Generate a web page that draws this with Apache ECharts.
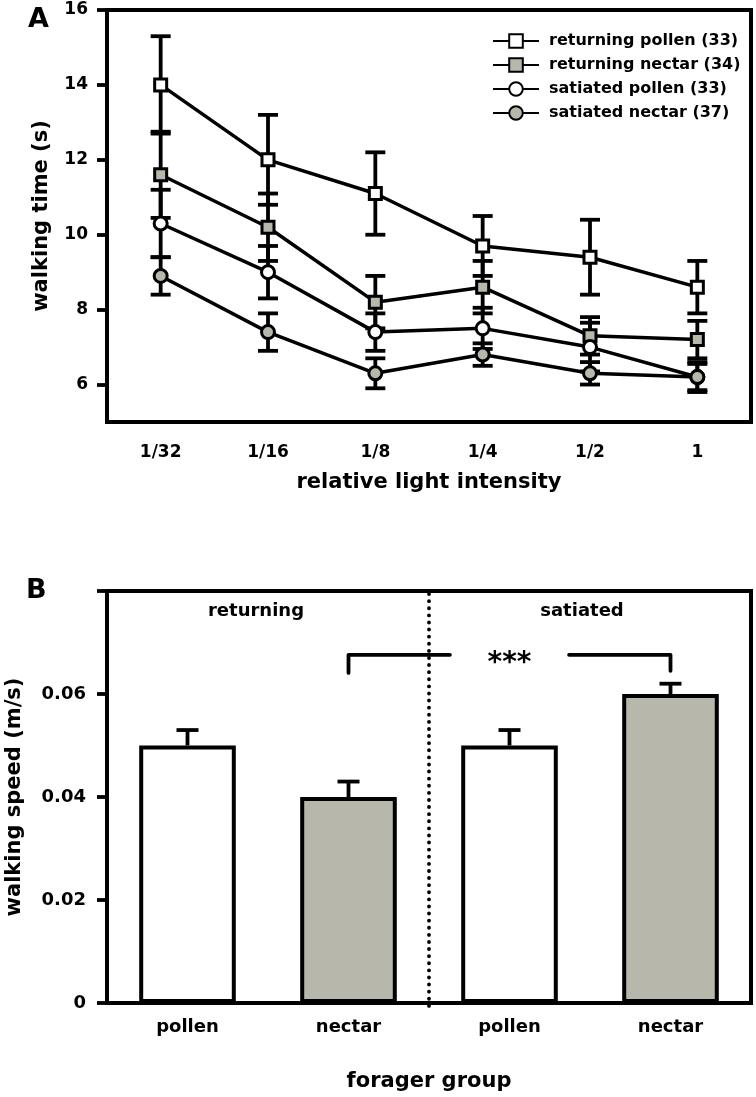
<!DOCTYPE html>
<html>
<head>
<meta charset="utf-8">
<script src="https://cdn.jsdelivr.net/npm/echarts@6/dist/echarts.min.js"></script>
<style>
  html, body { margin: 0; padding: 0; background: #fff; }
  #chart { width: 756px; height: 1097px; }
</style>
</head>
<body>
<div id="chart"></div>
<script>
// ---------- Panel A data ----------
const lightLabels = ['1/32', '1/16', '1/8', '1/4', '1/2', '1'];
const yTicksA = [6, 8, 10, 12, 14, 16];

const returningPollen    = [14.0, 12.0, 11.1, 9.7, 9.4, 8.6];
const returningPollenErr = [1.3, 1.2, 1.1, 0.8, 1.0, 0.7];
const returningNectar    = [11.6, 10.2, 8.2, 8.6, 7.3, 7.2];
const returningNectarErr = [1.15, 0.9, 0.7, 0.7, 0.5, 0.5];
const satiatedPollen     = [10.3, 9.0, 7.4, 7.5, 7.0, 6.2];
const satiatedPollenErr  = [0.9, 0.7, 0.5, 0.55, 0.65, 0.4];
const satiatedNectar     = [8.9, 7.4, 6.3, 6.8, 6.3, 6.2];
const satiatedNectarErr  = [0.5, 0.5, 0.4, 0.3, 0.3, 0.35];

const seriesNamesA = ['returning pollen (33)', 'returning nectar (34)', 'satiated pollen (33)', 'satiated nectar (37)'];

// ---------- Panel B data ----------
const barGroups = ['returning pollen', 'returning nectar', 'satiated pollen', 'satiated nectar'];
const barSpeed    = [0.050, 0.040, 0.050, 0.060];
const barSpeedErr = [0.003, 0.003, 0.003, 0.002];
const yTicksB = [0, 0.02, 0.04, 0.06, 0.08];
const sigPair = [1, 3];          // returning nectar vs satiated nectar
const sigLevel = 0.0676;
const sigLegEnds = [0.0641, 0.0645];
const sigLabel = '***';

// ---------- styles ----------
const FONT = "'DejaVu Sans', sans-serif";
const GREY = '#b7b7ab';
const BLACK = '#000';

function errorBars(means, errs, capHalf, upperOnly) {
  return means.map((m, i) => [i, m, errs[i], upperOnly ? 1 : 0, capHalf]);
}

function renderErr(params, api) {
  const x = api.value(0), m = api.value(1), e = api.value(2);
  const upperOnly = api.value(3) === 1;
  const w = api.value(4);
  const hi = api.coord([x, m + e]);
  const lo = api.coord([x, upperOnly ? m : m - e]);
  const st = { stroke: BLACK, lineWidth: 3.8 };
  const children = [
    { type: 'line', shape: { x1: hi[0], y1: hi[1], x2: lo[0], y2: lo[1] }, style: st },
    { type: 'line', shape: { x1: hi[0] - w, y1: hi[1], x2: hi[0] + w, y2: hi[1] }, style: st }
  ];
  if (!upperOnly) {
    children.push({ type: 'line', shape: { x1: lo[0] - w, y1: lo[1], x2: lo[0] + w, y2: lo[1] }, style: st });
  }
  return { type: 'group', children };
}

const lineDefs = [
  { name: seriesNamesA[0], data: returningPollen, err: returningPollenErr, symbol: 'rect', fill: '#fff' },
  { name: seriesNamesA[1], data: returningNectar, err: returningNectarErr, symbol: 'rect', fill: GREY },
  { name: seriesNamesA[2], data: satiatedPollen, err: satiatedPollenErr, symbol: 'circle', fill: '#fff' },
  { name: seriesNamesA[3], data: satiatedNectar, err: satiatedNectarErr, symbol: 'circle', fill: GREY }
];

const series = [];
lineDefs.forEach(d => {
  series.push({
    type: 'custom', xAxisIndex: 0, yAxisIndex: 0, z: 1, silent: true,
    renderItem: renderErr, data: errorBars(d.data, d.err, 10, false)
  });
});
lineDefs.forEach(d => {
  series.push({
    name: d.name, type: 'line', xAxisIndex: 0, yAxisIndex: 0, z: 3,
    data: d.data, symbol: d.symbol, symbolSize: d.symbol === 'rect' ? 12 : 13,
    showSymbol: true, silent: true,
    itemStyle: { color: d.fill, borderColor: BLACK, borderWidth: 3 },
    lineStyle: { color: BLACK, width: 3.5 },
    emphasis: { disabled: true }
  });
});

// Panel B bars
series.push({
  type: 'bar', xAxisIndex: 1, yAxisIndex: 1, barWidth: '60%', z: 2, silent: true,
  data: barSpeed.map((v, i) => ({
    value: v,
    itemStyle: { color: i % 2 === 0 ? '#fff' : GREY, borderColor: BLACK, borderWidth: 4 }
  }))
});
series.push({
  type: 'custom', xAxisIndex: 1, yAxisIndex: 1, z: 3, silent: true,
  renderItem: renderErr, data: errorBars(barSpeed, barSpeedErr, 11, true)
});
// dotted separator between returning and satiated groups
series.push({
  type: 'custom', xAxisIndex: 1, yAxisIndex: 1, z: 4, silent: true,
  data: [[1, 2]],
  renderItem: function (params, api) {
    const a = api.coord([api.value(0), yTicksB[yTicksB.length - 1]]);
    const b = api.coord([api.value(1), 0]);
    const x = (a[0] + b[0]) / 2;
    return {
      type: 'line',
      shape: { x1: x, y1: a[1] + 3, x2: x, y2: b[1] + 6 },
      style: { stroke: BLACK, lineWidth: 3.8, lineDash: [0.1, 7], lineCap: 'round' }
    };
  }
});
// significance bracket
series.push({
  type: 'custom', xAxisIndex: 1, yAxisIndex: 1, z: 4, silent: true,
  data: [[sigPair[0], sigPair[1], sigLevel, sigLegEnds[0], sigLegEnds[1]]],
  renderItem: function (params, api) {
    const i0 = api.value(0), i1 = api.value(1);
    const p0 = api.coord([i0, api.value(2)]);
    const p1 = api.coord([i1, api.value(2)]);
    const l0 = api.coord([i0, api.value(3)]);
    const l1 = api.coord([i1, api.value(4)]);
    const mid = api.coord([(i0 + i1) / 2, api.value(2)]);
    const band = api.size([1, 0])[0];
    const gap = band * 0.37;
    const st = { stroke: BLACK, lineWidth: 3.8, fill: null, lineCap: 'round', lineJoin: 'round' };
    return {
      type: 'group', children: [
        { type: 'polyline', shape: { points: [[l0[0], l0[1]], [p0[0], p0[1]], [mid[0] - gap, p0[1]]] }, style: st },
        { type: 'polyline', shape: { points: [[mid[0] + gap, p1[1]], [p1[0], p1[1]], [l1[0], l1[1]]] }, style: st },
        { type: 'text', style: { text: sigLabel, x: mid[0], y: p0[1] + 9, align: 'center', verticalAlign: 'middle',
            font: 'bold 28px ' + FONT, fill: BLACK } }
      ]
    };
  }
});

const axisLineStyle = { color: BLACK, width: 4 };
const labelStyle = (size) => ({ color: BLACK, fontSize: size, fontWeight: 'bold', fontFamily: FONT });

const option = {
  animation: false,
  backgroundColor: '#fff',
  grid: [
    { left: 107, right: 5, top: 10, height: 412, show: true, borderColor: BLACK, borderWidth: 4,
      backgroundColor: 'transparent', containLabel: false, outerBoundsMode: 'none' },
    { left: 107, right: 5, top: 591, height: 412, show: true, borderColor: BLACK, borderWidth: 4,
      backgroundColor: 'transparent', containLabel: false, outerBoundsMode: 'none' }
  ],
  legend: {
    orient: 'vertical', left: 492, top: 33, padding: 0,
    itemWidth: 46, itemHeight: 17, itemGap: 8,
    data: seriesNamesA,
    textStyle: { color: BLACK, fontSize: 16, fontWeight: 'bold', fontFamily: FONT, padding: [0, 0, 0, 5] },
    selectedMode: false
  },
  xAxis: [
    {
      type: 'category', gridIndex: 0, data: lightLabels, boundaryGap: true,
      axisLine: { lineStyle: axisLineStyle },
      axisTick: { alignWithLabel: true, length: 9, lineStyle: { color: BLACK, width: 3.8 } },
      axisLabel: Object.assign({ margin: 22 }, labelStyle(17)),
      splitLine: { show: false },
      name: 'relative light intensity', nameLocation: 'middle', nameGap: 50,
      nameTextStyle: labelStyle(21)
    },
    {
      type: 'category', gridIndex: 1, data: barGroups, boundaryGap: true,
      axisLine: { lineStyle: axisLineStyle },
      axisTick: { show: false },
      axisLabel: Object.assign({ margin: 15, formatter: v => v.split(' ')[1] }, labelStyle(18)),
      splitLine: { show: false },
      name: 'forager group', nameLocation: 'middle', nameGap: 68,
      nameTextStyle: labelStyle(21)
    }
  ],
  yAxis: [
    {
      type: 'value', gridIndex: 0, min: 5, max: 16,
      axisLine: { show: true, lineStyle: axisLineStyle },
      axisTick: { show: true, length: 10, customValues: yTicksA, lineStyle: { color: BLACK, width: 3.8 } },
      axisLabel: Object.assign({ margin: 19, customValues: yTicksA }, labelStyle(17)),
      splitLine: { show: false },
      name: 'walking time (s)', nameLocation: 'middle', nameGap: 55, nameRotate: 90,
      nameTextStyle: labelStyle(21)
    },
    {
      type: 'value', gridIndex: 1, min: 0, max: 0.08, interval: 0.02,
      axisLine: { show: true, lineStyle: axisLineStyle },
      axisTick: { show: true, length: 10, lineStyle: { color: BLACK, width: 3.8 } },
      axisLabel: Object.assign({
        margin: 21,
        formatter: v => (v === 0 ? '0' : (v > 0.07 ? '' : v.toFixed(2)))
      }, labelStyle(18)),
      splitLine: { show: false },
      name: 'walking speed (m/s)', nameLocation: 'middle', nameGap: 82, nameRotate: 90,
      nameTextStyle: labelStyle(21)
    }
  ],
  graphic: [
    { type: 'text', left: 28, top: 6, style: { text: 'A', font: 'bold 27px ' + FONT, fill: BLACK } },
    { type: 'text', left: 26, top: 577, style: { text: 'B', font: 'bold 27px ' + FONT, fill: BLACK } },
    { type: 'text', x: 256, y: 611, style: { text: 'returning', font: 'bold 18px ' + FONT, fill: BLACK, align: 'center', verticalAlign: 'middle' } },
    { type: 'text', x: 582, y: 611, style: { text: 'satiated', font: 'bold 18px ' + FONT, fill: BLACK, align: 'center', verticalAlign: 'middle' } }
  ],
  series: series
};

const chart = echarts.init(document.getElementById('chart'), null, { renderer: 'canvas' });
chart.setOption(option);
</script>
</body>
</html>
